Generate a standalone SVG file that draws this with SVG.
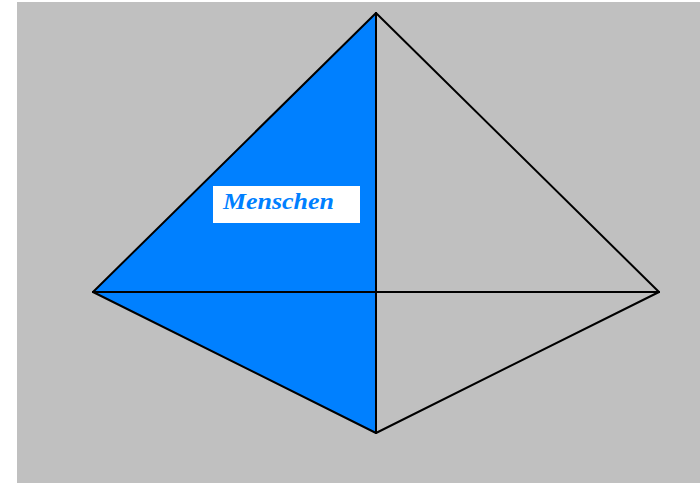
<svg xmlns="http://www.w3.org/2000/svg" width="700" height="483" viewBox="0 0 700 483">
<style>
.ln{stroke:#000;stroke-width:2;fill:none;stroke-linecap:round}
.lbl{font-family:"Liberation Serif","Times New Roman",serif;font-weight:bold;font-style:italic;font-size:23px;fill:#0080ff}
</style>
<rect x="0" y="0" width="700" height="483" fill="#fff"/>
<rect x="17" y="2" width="683" height="481" fill="#c0c0c0"/>
<g id="blue-face">
<polygon points="376,13 93,292 376,433" fill="#0080ff"/>
</g>
<g id="connectors">
<line class="ln" x1="376" y1="13" x2="93" y2="292"/>
<line class="ln" x1="376" y1="13" x2="659" y2="292"/>
<line class="ln" x1="93" y1="292" x2="659" y2="292"/>
<line class="ln" x1="93" y1="292" x2="376" y2="433"/>
<line class="ln" x1="659" y1="292" x2="376" y2="433"/>
<line class="ln" x1="376" y1="13" x2="376" y2="433"/>
</g>
<g id="label">
<rect x="213" y="186" width="147" height="37" fill="#fff"/>
<text class="lbl" x="223" y="209" textLength="111" lengthAdjust="spacingAndGlyphs">Menschen</text>
</g>
</svg>
